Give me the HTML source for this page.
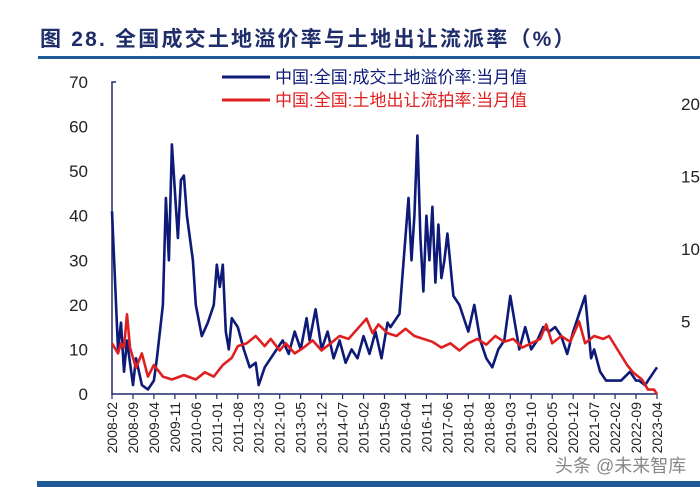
<!DOCTYPE html>
<html><head><meta charset="utf-8">
<style>
body{margin:0;background:#fff;}
#wrap{position:relative;width:700px;height:487px;overflow:hidden;background:#fff;font-family:"Liberation Sans","Noto Sans CJK SC",sans-serif;}
</style></head>
<body>
<div id="wrap">
<svg id="svg" width="700" height="487"></svg>
</div>
<script>
const xLabels=["2008-02","2008-09","2009-04","2009-11","2010-06","2011-01","2011-08","2012-03","2012-10","2013-05","2013-12","2014-07","2015-02","2015-09","2016-04","2016-11","2017-06","2018-01","2018-08","2019-03","2019-10","2020-05","2020-12","2021-07","2022-02","2022-09","2023-04"];
const leftTicks=[0,10,20,30,40,50,60,70];
const rightTicks=[5,10,15,20];
const blueMonths=[0,2,3,4,5,7,8,10,12,14,15,17,18,19,20,22,23,24,25,27,28,30,32,34,35,36,37,38,39,40,42,44,46,48,49,51,53,55,57,59,61,63,65,66,68,70,72,74,76,78,80,82,84,86,88,90,92,93,96,99,100,101,102,103,104,105,106,107,108,109,110,111,112,114,116,119,121,123,125,127,129,131,133,134,136,138,140,142,144,146,148,150,152,154,156,158,160,161,163,165,170,173,175,176,178,179,181,182];
const blueValues=[41,10,16,5,12,2,8,2,1,3,8,20,44,30,56,35,48,49,40,30,20,13,16,20,29,24,29,14,10,17,15,10,6,7,2,6,8,10,12,9,14,10,17,12,19,10,14,8,12,7,10,8,13,9,14,8,16,15,18,44,30,40,58,35,23,40,30,42,25,38,26,30,36,22,20,14,20,12,8,6,10,12,22,18,10,15,10,12,15,14,15,13,9,14,18,22,8,10,5,3,3,5,3,3,2,3,5,6];
const redMonths=[0,2,3,4,5,6,8,10,12,14,17,20,24,28,31,34,37,40,42,45,48,51,53,56,58,61,64,67,70,73,76,79,82,85,87,89,92,95,98,101,104,107,110,113,116,119,122,125,128,131,134,137,140,143,145,147,150,153,156,158,161,164,166,169,172,174,177,179,181,182];
const redValues=[3.5,2.8,3.5,3.2,5.5,3.2,1.8,2.8,1.2,2,1.2,1.0,1.3,1.0,1.5,1.2,2,2.5,3.3,3.5,4,3.3,3.8,3.0,3.5,2.8,3.2,3.7,3.0,3.5,4.0,3.8,4.5,5.2,4.2,4.8,4.2,4.0,4.5,4.0,3.8,3.6,3.2,3.5,3.0,3.5,3.8,3.4,4.0,3.6,3.8,3.2,3.5,3.8,4.8,3.5,4.0,3.6,5.0,3.5,4.0,3.8,4.0,3.0,2.0,1.5,1.0,0.3,0.3,0];

const NS="http://www.w3.org/2000/svg";
const svg=document.getElementById('svg');
const X0=112,X1=657,Y0=394;
const xS=m=>X0+m*(X1-X0)/182;
const yL=v=>Y0-v*(Y0-82)/70;
const yR=v=>Y0-v*(Y0-104)/20;
function mk(t,a,txt){const e=document.createElementNS(NS,t);for(const k in a)e.setAttribute(k,a[k]);if(txt!==undefined)e.textContent=txt;svg.appendChild(e);return e;}

let e;
e=mk('text',{x:40,y:46,'font-size':21,'font-weight':'bold','letter-spacing':2.2,fill:'#1f2d6b','font-family':'"Liberation Sans","Noto Sans CJK SC",sans-serif'},'图 28.  全国成交土地溢价率与土地出让流派率（%）');


e=mk('rect',{x:38,y:56,width:662,height:3,fill:'#1f5a96'});


e=mk('rect',{x:37,y:481,width:663,height:6,fill:'#1f5a96'});



e=mk('path',{d:`M${X0+4} 82 H${X0} V${Y0} H${X1}`,stroke:'#1f2d6b','stroke-width':1.5,fill:'none'});


leftTicks.forEach(v=>{
  const t=mk('text',{x:88,y:yL(v)+6,'text-anchor':'end','font-size':17,fill:'#222'},String(v));
  
  
});
rightTicks.forEach(v=>{
  const t=mk('text',{x:681,y:yR(v)+6,'font-size':17,fill:'#222'},String(v));
  
  
});
xLabels.forEach((l,i)=>{
  const x=xS(i*7);
  const tk=mk('line',{x1:x,y1:Y0,x2:x,y2:Y0+5,stroke:'#1f2d6b','stroke-width':1.2});
  
  
  const t=mk('text',{x:0,y:0,'font-size':14,fill:'#222','text-anchor':'end',transform:`translate(${x+5},${Y0+8}) rotate(-90)`},l);
  
  
});
e=mk('path',{d:blueMonths.map((m,i)=>(i?'L':'M')+xS(m).toFixed(1)+' '+yL(blueValues[i]).toFixed(1)).join(' '),stroke:'#0d1a78','stroke-width':2.6,fill:'none','stroke-linejoin':'round'});


e=mk('path',{d:redMonths.map((m,i)=>(i?'L':'M')+xS(m).toFixed(1)+' '+yR(redValues[i]).toFixed(1)).join(' '),stroke:'#e02020','stroke-width':2.6,fill:'none','stroke-linejoin':'round'});



e=mk('line',{x1:222,y1:77,x2:270,y2:77,stroke:'#0d1a78','stroke-width':3});


e=mk('text',{x:275,y:83,'font-size':17,fill:'#0d1a78'},'中国:全国:成交土地溢价率:当月值');


e=mk('line',{x1:222,y1:100,x2:270,y2:100,stroke:'#e02020','stroke-width':3});


e=mk('text',{x:275,y:106,'font-size':17,fill:'#e02020'},'中国:全国:土地出让流拍率:当月值');


e=mk('text',{x:555,y:472,'font-size':18,fill:'#555',opacity:0.7},'头条 @未来智库');


</script>
</body></html>
